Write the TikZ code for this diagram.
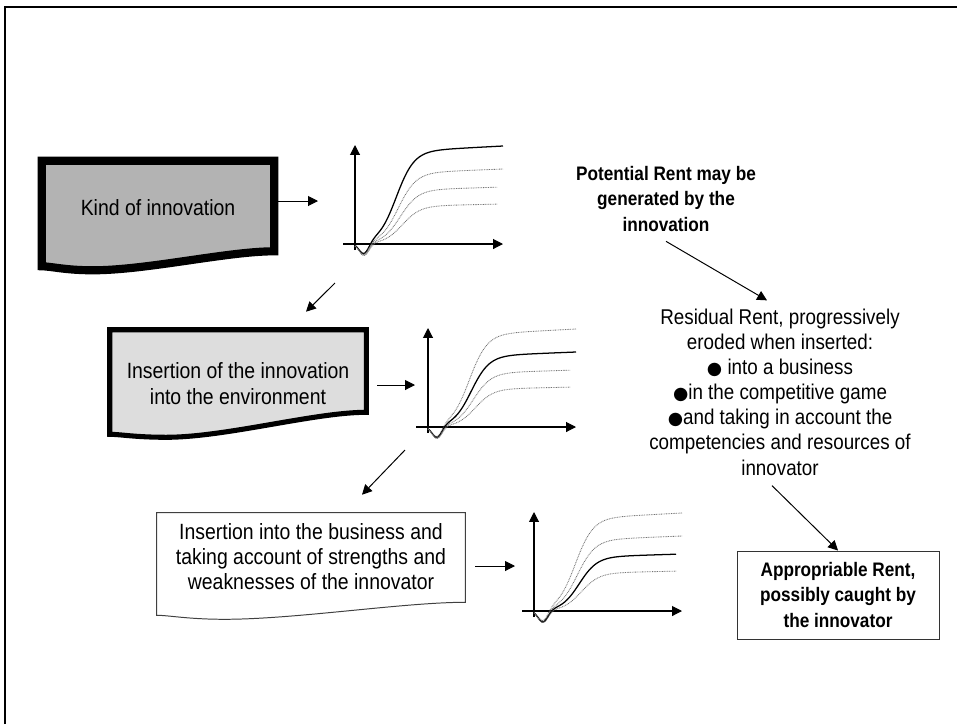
\documentclass[tikz,border=0pt]{standalone}
\usepackage{fontspec}
\setmainfont{Liberation Sans}[FakeStretch=0.88]
\newfontfamily\dotfont{DejaVu Sans}
\usepackage{tikz}
\newlength{\pix}
\setlength{\pix}{0.025cm}
\newcommand{\bullitem}{{\dotfont\fontsize{12.5}{12.5}\selectfont ●}}
\definecolor{kindGray}{RGB}{179,179,179}
\definecolor{envGray}{RGB}{221,221,221}
\usetikzlibrary{arrows.meta,calc}
\pgfdeclarelayer{bg}
\pgfsetlayers{bg,main}
\tikzset{
  >={Triangle[length=7pt,width=7pt]},
  frame/.style={line width=1.5pt},
  txt/.style={font=\fontsize{15.7}{17.8}\selectfont,align=center,inner sep=0},
  doc/.style={txt,shape=rectangle},
  kindbox/.style={draw,fill=kindGray,line width=5.8pt},
  envbox/.style={draw,fill=envGray,line width=3.6pt},
  busbox/.style={draw=black!75,fill=white,line width=0.7pt},
  rent/.style={font=\bfseries\fontsize{13.9}{18.4}\selectfont,align=center,inner sep=0},
  approp/.style={rent,draw=black!80,line width=0.7pt,minimum width=202\pix,minimum height=88\pix},
  axis/.style={->,line width=0.75pt},
  arr/.style={->,line width=0.7pt},
  fullcurve/.style={black,line width=0.9pt},
  dotcurve/.style={black!55,line width=0.6pt,dash pattern=on 0.6pt off 0.6pt},
}
% outline of a document shape round a node: right end, dip and left end below its south side
\newcommand{\docshape}[5]{%
  \draw[#1] (#2.north west) -- (#2.north east) -- ($(#2.south east)+(0,#3)$)
    .. controls ($(#2.south west)!0.8!(#2.south east)+(0,#3)$) and ($(#2.south west)!0.45!(#2.south east)+(0,#4)$)
    .. ($(#2.south west)!0.22!(#2.south east)+(0,#4)$)
    .. controls ($(#2.south west)!0.1!(#2.south east)+(0,#4)$) and ($(#2.south west)!0.04!(#2.south east)+(0,#5)$)
    .. ($(#2.south west)+(0,#5)$) -- cycle;}
% rent curves: origin x, origin y, level of the full line
\newcommand{\rentcurves}[3]{%
  \begin{scope}[shift={(#1,#2)}]
    \draw[axis] (0,6) -- (0,-99);
    \draw[axis] (-12,0) -- (148,0);
    \foreach \lev/\ctr/\xend in {98/41/148,75/43/148,57/45/142,40/47/142}{
      \ifnum\lev=#3\relax\tikzset{curve/.style=fullcurve}\else\tikzset{curve/.style=dotcurve}\fi
      \draw[curve] plot[domain=0:\xend,samples=90] (\x,{12*exp(-((\x-9)/7)^2)-\lev*(0.92+0.08*\x/148)/(1+exp(-(\x-\ctr)/9))});
    }
  \end{scope}}

\begin{document}
\begin{tikzpicture}[x=\pix,y=-\pix]
  \useasboundingbox (0,0) rectangle (957,724);
  \draw[frame] (5,724) -- (5,7) -- (957,7);
  % the three steps
  \node (kind) [doc,minimum width=232\pix,minimum height=94\pix] at (158,208) {Kind of innovation};
  \node (env) [doc,font=\fontsize{15.7}{19}\selectfont,minimum width=256\pix,minimum height=107\pix] at (238,383.5) {Insertion of the innovation\\into the environment};
  \node (bus) [doc,minimum width=308\pix,minimum height=88\pix] at (311,557) {Insertion into the business and\\taking account of strengths and\\weaknesses of the innovator};
  \begin{pgfonlayer}{bg}
    \docshape{kindbox}{kind}{-4}{15}{11}
    \docshape{envbox}{env}{-25}{0}{-3}
    \docshape{busbox}{bus}{1}{18}{14}
  \end{pgfonlayer}
  % curves
  \rentcurves{355}{244}{98}
  \rentcurves{428}{427}{75}
  \rentcurves{534}{611}{57}
  \coordinate (g1in) at (318,201);
  \coordinate (g1out) at (335,283);
  \coordinate (g2in) at (415,385);
  \coordinate (g2out) at (405,450);
  \coordinate (g3in) at (515,566);
  \draw[arr] (kind.east |- g1in) -- (g1in);
  \draw[arr] (g1out) -- ($(env.north)+(68,-18)$);
  \draw[arr,shorten <=11\pix] (env.east |- g2in) -- (g2in);
  \draw[arr] (g2out) -- ($(bus.north)+(51,-18)$);
  \draw[arr,shorten <=10\pix] (bus.east |- g3in) -- (g3in);
  % rents
  \node (pot) [rent] at (666,199) {Potential Rent may be\\generated by the\\innovation};
  \node (resid) [txt,font=\fontsize{15.2}{17.9}\selectfont] at (780,392) {Residual Rent, progressively\\eroded when inserted:\\\bullitem{} into a business\\\bullitem in the competitive game\\\bullitem and taking in account the\\competencies and resources of\\innovator};
  \node (approp) [approp] at (838,595) {Appropriable Rent,\\possibly caught by\\the innovator};
  \draw[arr] ($(pot.south)+(0,9)$) -- ($(resid.north)+(-13,-8)$);
  \draw[arr] ($(resid.south)+(-8,10)$) -- (approp.north);
\end{tikzpicture}
\end{document}
